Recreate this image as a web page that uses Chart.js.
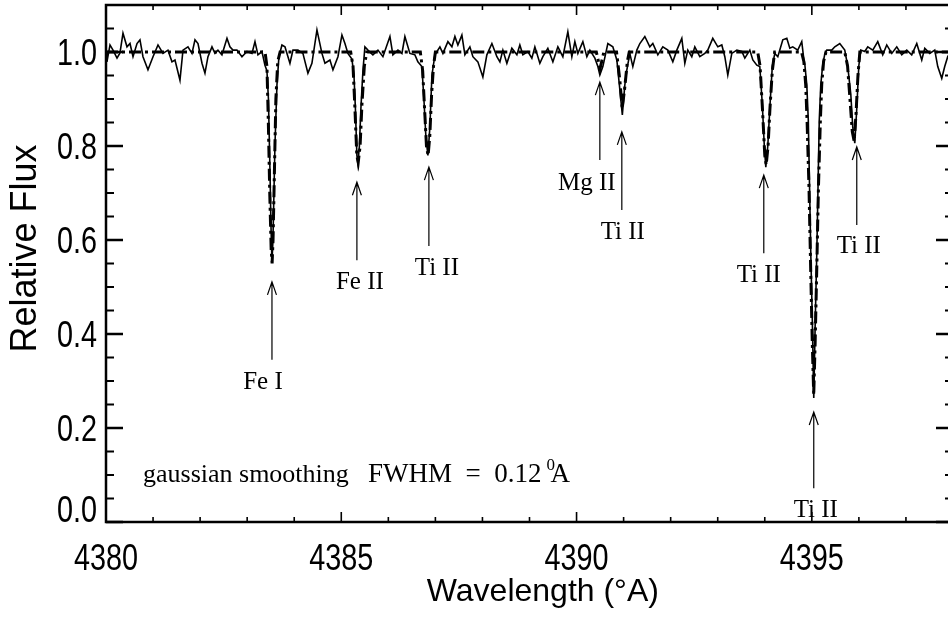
<!DOCTYPE html>
<html>
<head>
<meta charset="utf-8">
<script src="https://cdn.jsdelivr.net/npm/chart.js@4.4.0/dist/chart.umd.min.js"></script>
<style>
html, body { margin: 0; padding: 0; overflow: hidden; background: #fff; }
#wrap { width: 960px; height: 619px; }
</style>
</head>
<body>
<div id="wrap"><canvas id="spectrumChart" width="960" height="619"></canvas></div>
<script>
// observed spectrum: [wavelength (A), relative flux]
const observed = [
    [4380.000, 1.000], [4380.020, 0.979], [4380.085, 1.015], [4380.149, 1.004], [4380.234, 0.987],
    [4380.297, 0.998], [4380.361, 1.040], [4380.446, 1.011], [4380.510, 1.018], [4380.574, 0.990],
    [4380.659, 1.018], [4380.722, 1.026], [4380.786, 0.990], [4380.892, 0.962], [4380.999, 0.990],
    [4381.105, 1.015], [4381.211, 0.997], [4381.317, 1.004], [4381.402, 0.979], [4381.466, 0.983],
    [4381.572, 0.940], [4381.636, 1.004], [4381.742, 1.011], [4381.827, 0.997], [4381.891, 1.026],
    [4381.955, 1.018], [4382.040, 0.976], [4382.103, 0.955], [4382.167, 0.990], [4382.252, 1.011],
    [4382.316, 0.997], [4382.379, 1.004], [4382.464, 0.994], [4382.571, 1.029], [4382.634, 1.011],
    [4382.698, 1.004], [4382.783, 1.004], [4382.889, 0.990], [4382.996, 1.001], [4383.102, 0.997],
    [4383.166, 1.022], [4383.229, 0.994], [4383.314, 1.001], [4383.378, 0.972], [4383.420, 0.960],
    [4383.452, 0.900], [4383.484, 0.750], [4383.506, 0.630], [4383.527, 0.553], [4383.548, 0.600],
    [4383.569, 0.700], [4383.590, 0.800], [4383.633, 0.930], [4383.675, 0.990], [4383.739, 1.015],
    [4383.803, 1.011], [4383.909, 0.976], [4383.973, 1.004], [4384.079, 1.004], [4384.185, 0.997],
    [4384.291, 0.955], [4384.376, 0.976], [4384.483, 1.047], [4384.589, 0.997], [4384.653, 0.976],
    [4384.759, 0.983], [4384.823, 0.962], [4384.929, 0.990], [4385.014, 1.036], [4385.078, 1.018],
    [4385.141, 0.997], [4385.226, 0.985], [4385.270, 0.950], [4385.300, 0.880], [4385.332, 0.780],
    [4385.353, 0.762], [4385.385, 0.800], [4385.417, 0.880], [4385.460, 0.960], [4385.502, 1.011],
    [4385.566, 1.004], [4385.672, 0.994], [4385.779, 1.004], [4385.885, 0.990], [4386.034, 1.033],
    [4386.097, 0.994], [4386.204, 1.004], [4386.289, 0.997], [4386.352, 1.033], [4386.458, 0.997],
    [4386.565, 0.994], [4386.628, 0.979], [4386.713, 0.969], [4386.756, 0.900], [4386.798, 0.820],
    [4386.841, 0.780], [4386.883, 0.840], [4386.926, 0.950], [4386.990, 0.994], [4387.096, 1.011],
    [4387.160, 0.997], [4387.266, 1.022], [4387.351, 1.011], [4387.415, 1.033], [4387.478, 1.015],
    [4387.563, 1.036], [4387.627, 0.994], [4387.733, 1.011], [4387.797, 0.990], [4387.903, 0.979],
    [4388.009, 0.947], [4388.094, 0.994], [4388.201, 1.018], [4388.307, 0.990], [4388.371, 0.979],
    [4388.434, 1.004], [4388.519, 0.976], [4388.625, 1.008], [4388.732, 0.994], [4388.795, 1.015],
    [4388.859, 0.994], [4388.965, 1.001], [4389.050, 0.987], [4389.114, 1.011], [4389.220, 0.976],
    [4389.284, 0.990], [4389.390, 1.008], [4389.497, 0.979], [4389.603, 1.011], [4389.709, 0.990],
    [4389.815, 1.043], [4389.900, 0.990], [4389.964, 1.022], [4390.028, 0.997], [4390.134, 1.022],
    [4390.219, 0.990], [4390.283, 1.004], [4390.389, 0.987], [4390.453, 0.969], [4390.495, 0.951],
    [4390.559, 0.969], [4390.665, 1.018], [4390.771, 1.011], [4390.856, 0.983], [4390.910, 0.930],
    [4390.973, 0.866], [4391.026, 0.930], [4391.069, 0.962], [4391.132, 0.997], [4391.196, 0.969],
    [4391.281, 1.004], [4391.345, 1.018], [4391.451, 1.033], [4391.557, 1.011], [4391.621, 1.018],
    [4391.727, 0.994], [4391.833, 1.011], [4391.940, 1.004], [4392.046, 0.979], [4392.131, 1.004],
    [4392.237, 1.029], [4392.301, 0.976], [4392.364, 1.004], [4392.449, 0.990], [4392.513, 1.011],
    [4392.619, 0.990], [4392.726, 0.997], [4392.789, 1.004], [4392.895, 1.029], [4393.002, 1.011],
    [4393.087, 1.015], [4393.151, 0.990], [4393.214, 0.951], [4393.299, 0.997], [4393.406, 1.004],
    [4393.512, 1.001], [4393.576, 0.987], [4393.682, 1.004], [4393.746, 0.983], [4393.831, 0.972],
    [4393.894, 0.969], [4393.947, 0.890], [4393.990, 0.800], [4394.022, 0.755], [4394.064, 0.800],
    [4394.107, 0.880], [4394.160, 0.970], [4394.213, 0.997], [4394.277, 0.990], [4394.383, 1.026],
    [4394.468, 1.029], [4394.532, 1.008], [4394.595, 1.011], [4394.701, 1.004], [4394.786, 1.022],
    [4394.829, 0.985], [4394.850, 0.975], [4394.893, 0.930], [4394.925, 0.855], [4394.950, 0.720],
    [4394.978, 0.570], [4395.010, 0.430], [4395.041, 0.264], [4395.073, 0.430], [4395.105, 0.570],
    [4395.133, 0.720], [4395.158, 0.855], [4395.190, 0.930], [4395.233, 0.975], [4395.275, 0.995],
    [4395.318, 1.004], [4395.424, 1.004], [4395.488, 1.011], [4395.594, 1.018], [4395.700, 1.004],
    [4395.764, 0.969], [4395.828, 0.910], [4395.870, 0.840], [4395.913, 0.806], [4395.955, 0.880],
    [4395.998, 0.970], [4396.040, 1.004], [4396.125, 1.001], [4396.189, 1.011], [4396.295, 1.004],
    [4396.401, 1.022], [4396.507, 0.994], [4396.592, 1.015], [4396.699, 0.997], [4396.805, 1.011],
    [4396.911, 0.994], [4397.017, 1.004], [4397.123, 0.994], [4397.230, 1.018], [4397.336, 0.983],
    [4397.400, 1.008], [4397.506, 0.997], [4397.612, 1.004], [4397.676, 0.969], [4397.761, 0.944],
    [4397.824, 0.969], [4397.888, 0.990], [4397.950, 1.000], [4398.000, 1.000]
];

// synthetic spectrum (dash-dot)
const synthetic = [
    [4380.00, 1.000],
    [4383.38, 1.000], [4383.42, 0.970], [4383.45, 0.850], [4383.48, 0.700], [4383.51, 0.580],
    [4383.53, 0.550], [4383.55, 0.600], [4383.58, 0.750], [4383.61, 0.900], [4383.65, 0.980],
    [4383.70, 1.000],
    [4385.20, 1.000], [4385.25, 0.970], [4385.29, 0.880], [4385.33, 0.780], [4385.36, 0.765],
    [4385.40, 0.800], [4385.44, 0.890], [4385.49, 0.970], [4385.54, 1.000],
    [4386.68, 1.000], [4386.73, 0.960], [4386.77, 0.880], [4386.81, 0.800], [4386.845, 0.780],
    [4386.88, 0.820], [4386.92, 0.910], [4386.96, 0.970], [4387.00, 1.000],
    [4390.42, 1.000], [4390.50, 0.965], [4390.58, 1.000],
    [4390.85, 1.000], [4390.92, 0.940], [4390.97, 0.880], [4391.02, 0.920], [4391.08, 0.980],
    [4391.12, 1.000],
    [4393.85, 1.000], [4393.90, 0.970], [4393.95, 0.880], [4394.00, 0.780], [4394.03, 0.760],
    [4394.07, 0.800], [4394.11, 0.880], [4394.16, 0.960], [4394.21, 1.000],
    [4394.78, 1.000], [4394.83, 0.980], [4394.87, 0.930], [4394.90, 0.850], [4394.94, 0.710],
    [4394.975, 0.540], [4395.01, 0.380], [4395.04, 0.270], [4395.07, 0.380], [4395.105, 0.540],
    [4395.14, 0.710], [4395.18, 0.850], [4395.21, 0.930], [4395.25, 0.980], [4395.30, 1.000],
    [4395.70, 1.000], [4395.76, 0.970], [4395.81, 0.900], [4395.86, 0.830], [4395.90, 0.810],
    [4395.94, 0.870], [4395.98, 0.950], [4396.02, 1.000],
    [4398.00, 1.000]
];

const xMajorTicks = [4380, 4385, 4390, 4395];
const xMinorTicks = [4381, 4382, 4383, 4384, 4386, 4387, 4388, 4389, 4391, 4392, 4393, 4394, 4396, 4397, 4398];
const yMajorTicks = [0, 0.2, 0.4, 0.6, 0.8, 1.0];
const yMinorTicks = [0.05, 0.1, 0.15, 0.25, 0.3, 0.35, 0.45, 0.5, 0.55, 0.65, 0.7, 0.75, 0.85, 0.9, 0.95, 1.05];
const xTickLabels = ['4380', '4385', '4390', '4395'];
const yTickLabels = ['0.0', '0.2', '0.4', '0.6', '0.8', '1.0'];

// line identifications
const lineNames = ['Fe I', 'Fe II', 'Ti II', 'Mg II', 'Ti II', 'Ti II', 'Ti II', 'Ti II'];
const lineWave = [4383.527, 4385.332, 4386.862, 4390.495, 4390.962, 4393.979, 4395.041, 4395.955];
const arrowTip = [0.511, 0.723, 0.755, 0.936, 0.830, 0.738, 0.234, 0.798];
const arrowTail = [0.345, 0.557, 0.587, 0.770, 0.664, 0.572, 0.072, 0.632];
const labelWave = [4383.335, 4385.396, 4387.032, 4390.219, 4390.983, 4393.873, 4395.084, 4395.998];
const labelFlux = [0.283, 0.496, 0.526, 0.706, 0.602, 0.511, 0.011, 0.572];

const noteWave = [4380.786, 4385.566];
const noteFlux = 0.085;

const frameAndLabels = {
    id: 'frameAndLabels',
    afterDatasetsDraw(chart) {
        const ctx = chart.ctx;
        const a = chart.chartArea;
        const x = chart.scales.x;
        const y = chart.scales.y;
        ctx.save();
        ctx.strokeStyle = '#000';
        ctx.fillStyle = '#000';

        // inward ticks on all four sides
        function xTick(v, len, w) {
            const px = x.getPixelForValue(v);
            ctx.lineWidth = w;
            ctx.beginPath();
            ctx.moveTo(px, a.bottom); ctx.lineTo(px, a.bottom - len);
            ctx.moveTo(px, a.top); ctx.lineTo(px, a.top + len);
            ctx.stroke();
        }
        function yTick(v, len, w) {
            const py = y.getPixelForValue(v);
            ctx.lineWidth = w;
            ctx.beginPath();
            ctx.moveTo(a.left, py); ctx.lineTo(a.left + len, py);
            ctx.moveTo(a.right, py); ctx.lineTo(a.right - len, py);
            ctx.stroke();
        }
        xMajorTicks.forEach(v => xTick(v, 10, 1.6));
        xMinorTicks.forEach(v => xTick(v, 5, 1.6));
        yMajorTicks.forEach(v => yTick(v, 17, 2.4));
        yMinorTicks.forEach(v => yTick(v, 8, 2));

        ctx.lineWidth = 2.5;
        ctx.strokeRect(a.left, a.top, a.right - a.left, a.bottom - a.top);

        // tick labels, a little condensed like the original
        function squeezed(str, px, py, align) {
            ctx.save();
            ctx.translate(px, py);
            ctx.scale(0.8, 1);
            ctx.textAlign = align;
            ctx.textBaseline = 'alphabetic';
            ctx.fillText(str, 0, 0);
            ctx.restore();
        }
        ctx.font = '36px "Liberation Sans", Arial, sans-serif';
        xMajorTicks.forEach((v, i) => squeezed(xTickLabels[i], x.getPixelForValue(v), a.bottom + 48, 'center'));
        yMajorTicks.forEach((v, i) => {
            const py = y.getPixelForValue(v);
            squeezed(yTickLabels[i], a.left - 9, v === 0 ? py : py + 13, 'right');
        });

        // arrows and names
        ctx.lineWidth = 1.2;
        ctx.font = '25px "Liberation Serif", "Times New Roman", serif';
        ctx.textAlign = 'center';
        ctx.textBaseline = 'alphabetic';
        lineNames.forEach((name, i) => {
            const px = x.getPixelForValue(lineWave[i]);
            const tip = y.getPixelForValue(arrowTip[i]);
            const tail = y.getPixelForValue(arrowTail[i]);
            ctx.beginPath();
            ctx.moveTo(px, tail); ctx.lineTo(px, tip);
            ctx.moveTo(px - 4.5, tip + 13); ctx.lineTo(px, tip); ctx.lineTo(px + 4.5, tip + 13);
            ctx.stroke();
            ctx.fillText(name, x.getPixelForValue(labelWave[i]), y.getPixelForValue(labelFlux[i]));
        });

        // smoothing note
        const ny = y.getPixelForValue(noteFlux);
        ctx.textAlign = 'left';
        ctx.font = '26px "Liberation Serif", "Times New Roman", serif';
        ctx.fillText('gaussian smoothing', x.getPixelForValue(noteWave[0]), ny);
        ctx.font = '27px "Liberation Serif", "Times New Roman", serif';
        const fx = x.getPixelForValue(noteWave[1]);
        const part = 'FWHM  =  0.12';
        ctx.fillText(part, fx, ny);
        const endX = fx + ctx.measureText(part).width;
        ctx.fillText('A', endX + 9, ny);
        ctx.font = '17px "Liberation Serif", "Times New Roman", serif';
        ctx.fillText('0', endX + 5, ny - 12);
        ctx.restore();
    }
};

document.addEventListener('DOMContentLoaded', function() {
    drawChart();
});

function drawChart() {
    const ctx = document.getElementById('spectrumChart').getContext('2d');

    new Chart(ctx, {
        type: 'line',
        data: {
            datasets: [{
                label: 'synthetic',
                data: synthetic.map(p => ({ x: p[0], y: p[1] })),
                borderColor: '#000',
                borderWidth: 3,
                borderDash: [12, 4, 3, 4],
                pointRadius: 0,
                tension: 0,
                fill: false
            }, {
                label: 'observed',
                data: observed.map(p => ({ x: p[0], y: p[1] })),
                borderColor: '#000',
                borderWidth: 1.6,
                pointRadius: 0,
                tension: 0,
                fill: false
            }]
        },
        options: {
            responsive: false,
            animation: false,
            events: [],
            layout: { padding: { top: 5, right: 7, left: 0, bottom: 0 } },
            plugins: {
                legend: { display: false },
                tooltip: { enabled: false }
            },
            scales: {
                x: {
                    type: 'linear',
                    min: 4380,
                    max: 4398,
                    grid: { display: false, drawTicks: false },
                    border: { display: false },
                    ticks: { display: false, stepSize: 5, includeBounds: false },
                    title: {
                        display: true,
                        text: '   Wavelength (°A)',
                        color: '#000',
                        font: { family: '"Liberation Sans", Arial, sans-serif', size: 32 },
                        padding: { top: 0, bottom: 8 }
                    },
                    afterFit: function(scale) {
                        scale.height = 97;
                        scale.paddingLeft = 0;
                        scale.paddingRight = 0;
                    }
                },
                y: {
                    type: 'linear',
                    min: 0,
                    max: 1.1,
                    grid: { display: false, drawTicks: false },
                    border: { display: false },
                    ticks: { display: false, stepSize: 0.2, includeBounds: false },
                    title: {
                        display: true,
                        text: '   Relative Flux',
                        color: '#000',
                        font: { family: '"Liberation Sans", Arial, sans-serif', size: 36 },
                        padding: { top: 4, bottom: 0 }
                    },
                    afterFit: function(scale) {
                        scale.width = 106;
                        scale.paddingTop = 0;
                        scale.paddingBottom = 0;
                    }
                }
            }
        },
        plugins: [frameAndLabels]
    });
}
</script>
</body>
</html>
